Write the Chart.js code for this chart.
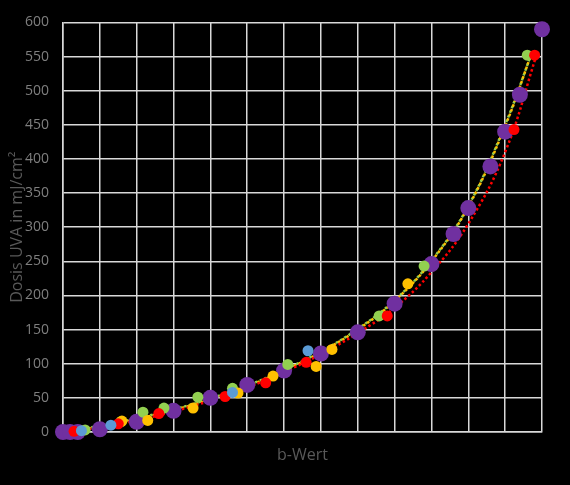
<!DOCTYPE html>
<html>
<head>
<meta charset="utf-8">
<script src="https://cdn.jsdelivr.net/npm/chart.js@4"></script>
<style>
html,body{margin:0;padding:0;background:#000;}
#wrap{width:570px;height:485px;}
</style>
</head>
<body>
<div id="wrap"><canvas id="c" width="570" height="485"></canvas></div>
<script>
// b-Wert (x) and Dosis UVA (y) per series
const purpleX = [0, 0.19, 0.4, 1.0, 2.0, 3.0, 4.0, 5.0, 6.0, 7.0, 8.0, 9.0, 10.0, 10.6, 11.0, 11.6, 12.0, 12.4, 13.0];
const purpleY = [0, 0, 0, 4, 15, 31, 50, 69, 90, 115, 146, 188, 246, 290, 328, 389, 440, 494, 590];
const redX = [0.3, 1.5, 2.6, 4.4, 5.5, 6.6, 8.8, 12.24, 12.8];
const redY = [1, 12, 27, 52, 72, 102, 170, 443, 552];
const greenX = [0.6, 1.57, 2.17, 2.74, 3.66, 4.6, 6.1, 8.58, 9.8, 12.6];
const greenY = [3, 15, 29, 35, 51, 64, 99, 170, 243, 552];
const yellowX = [1.6, 2.3, 3.53, 4.75, 5.7, 6.87, 7.3, 9.36];
const yellowY = [16, 17, 35, 57, 82, 96, 121, 217];
const blueX = [0.5, 1.3, 4.6, 6.65];
const blueY = [2, 10, 58, 119];
// trendlines
const trendYellowX = [0.3, 1, 2, 3, 4, 5, 6, 7, 8, 9, 10, 11, 12, 12.7];
const trendYellowY = [2, 8, 19, 32, 48, 67, 90, 117, 150, 192, 250, 330, 448, 552];
const trendGreenY  = [3, 9, 20, 33, 49, 68, 91, 118, 151, 193, 251, 331, 450, 552];
const trendRedX = [0.3, 1, 2, 3, 4, 5, 6, 7, 8, 9, 10, 11, 12, 12.85];
const trendRedY = [1, 7, 17, 30, 46, 65, 88, 114, 145, 182, 234, 305, 410, 552];
const yTicks = [0, 50, 100, 150, 200, 250, 300, 350, 400, 450, 500, 550, 600];

const pts = (xs, ys) => xs.map((x, i) => ({x: x, y: ys[i]}));

const trend = (xs, ys, color, off) => ({
  type: 'line', data: pts(xs, ys), borderColor: color, borderWidth: 2.5,
  borderDash: [2.5, 2.5], borderDashOffset: off, pointRadius: 0, fill: false, tension: 0.4, showLine: true, clip: false
});
const scat = (xs, ys, color, r) => ({
  type: 'scatter', data: pts(xs, ys), backgroundColor: color, borderColor: color,
  pointRadius: r, pointHoverRadius: r, borderWidth: 0, clip: false
});

new Chart(document.getElementById('c'), {
  data: {
    datasets: [
      scat(blueX, blueY, '#5B9BD5', 5.5),
      scat(redX, redY, '#FF0000', 5.5),
      scat(yellowX, yellowY, '#FFC000', 5.5),
      scat(greenX, greenY, '#92D050', 5.5),
      scat(purpleX, purpleY, '#7030A0', 8),
      trend(trendRedX, trendRedY, '#FF0000', 0),
      trend(trendYellowX, trendYellowY, '#FFC000', 0),
      trend(trendYellowX, trendGreenY, '#92D050', 2.5)
    ]
  },
  options: {
    responsive: false,
    animation: false,
    events: [],
    layout: {padding: {left: 0, right: 28, top: 19, bottom: 0}},
    plugins: {legend: {display: false}, tooltip: {enabled: false}},
    scales: {
      x: {
        type: 'linear', min: 0, max: 13,
        ticks: {display: false, stepSize: 1},
        grid: {color: '#d9d9d9', lineWidth: 1.5, drawTicks: false},
        border: {color: '#d9d9d9', width: 1.5},
        title: {display: true, text: 'b-Wert', color: '#595959',
          font: {family: '"Open Sans", sans-serif', size: 16}, padding: {top: 8, bottom: 20}},
        afterFit: s => { s.height = 53; }
      },
      y: {
        type: 'linear', min: 0, max: 600,
        afterBuildTicks: s => { s.ticks = yTicks.map(v => ({value: v})); },
        ticks: {color: '#7f7f7f', font: {family: '"Open Sans", sans-serif', size: 14}, padding: 14},
        grid: {color: '#d9d9d9', lineWidth: 1.5, drawTicks: false},
        border: {color: '#d9d9d9', width: 1.5},
        title: {display: true, text: 'Dosis UVA in mJ/cm²', color: '#595959',
          font: {family: '"Open Sans", sans-serif', size: 16}, padding: {top: 8, bottom: 2}},
        afterFit: s => { s.width = 63; }
      }
    }
  }
});
</script>
</body>
</html>
